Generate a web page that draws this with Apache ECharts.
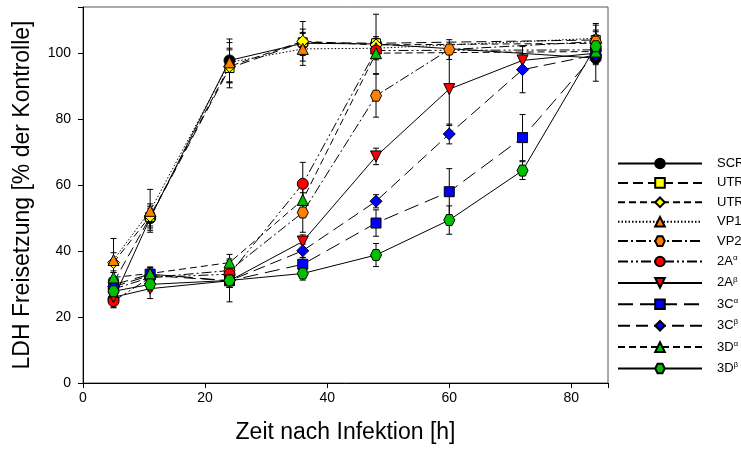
<!DOCTYPE html>
<html>
<head>
<meta charset="utf-8">
<script src="https://cdn.jsdelivr.net/npm/echarts@6/dist/echarts.min.js"></script>
<style>
  html, body { margin: 0; padding: 0; background: #fff; }
  #chart { width: 741px; height: 455px; }
</style>
</head>
<body>
<div id="chart"></div>
<script>
// Time points (hours after infection)
const timesEarly = [5, 11, 24, 36, 48, 84];
const timesMid   = [5, 11, 24, 36, 48, 60, 84];
const timesFull  = [5, 11, 24, 36, 48, 60, 72, 84];

// LDH release (% of control) and standard deviations
const scrValues   = [25.5, 50.0, 97.8, 103.0, 102.8, 98.5];
const scrErrors   = [2.5, 3.0, 6.5, 3.0, 9.0, 7.0];
const utr5Values  = [30.5, 50.3, 95.5, 103.3, 103.0, 104.0];
const utr5Errors  = [3.0, 4.0, 6.0, 4.0, 2.0, 5.0];
const utr3Values  = [36.5, 50.6, 96.0, 103.6, 102.5, 103.0];
const utr3Errors  = [3.0, 3.0, 5.0, 6.0, 2.0, 4.0];
const vp1Values   = [37.3, 52.2, 97.2, 101.3, 101.5, 104.5];
const vp1Errors   = [6.5, 6.5, 6.0, 5.0, 2.0, 4.0];
const vp2Values   = [28.5, 32.0, 34.1, 51.7, 87.1, 101.1, 103.5];
const vp2Errors   = [2.0, 2.0, 3.0, 6.0, 6.5, 3.0, 3.0];
const a2aValues   = [24.8, 32.0, 33.0, 60.4, 100.8, 101.0];
const a2aErrors   = [2.0, 2.0, 2.0, 6.5, 2.0, 3.0];
const a2bValues   = [26.0, 28.6, 31.0, 42.9, 68.7, 89.1, 97.8, 100.0];
const a2bErrors   = [2.0, 3.0, 2.0, 2.0, 2.5, 11.0, 2.0, 3.0];
const c3aValues   = [29.8, 33.0, 31.0, 36.0, 48.5, 58.0, 74.4, 100.0];
const c3aErrors   = [2.0, 2.0, 2.0, 2.0, 4.0, 7.0, 7.0, 3.0];
const c3bValues   = [29.2, 32.6, 31.0, 40.1, 55.1, 75.5, 95.0, 99.5];
const c3bErrors   = [2.0, 2.0, 2.0, 2.0, 2.0, 3.0, 7.0, 3.0];
const d3aValues   = [32.0, 33.2, 36.5, 55.5, 100.0, 100.5];
const d3aErrors   = [2.0, 2.0, 2.5, 4.0, 2.0, 2.0];
const d3bValues   = [27.8, 29.9, 31.1, 33.2, 38.8, 49.4, 64.4, 102.1];
const d3bErrors   = [2.0, 2.0, 6.5, 2.0, 3.5, 4.3, 2.7, 3.0];

const xTicks = [0, 20, 40, 60, 80];
const yTicks = [0, 20, 40, 60, 80, 100];

const hexagon = 'path://M-10,0 L-5,-8.66 L5,-8.66 L10,0 L5,8.66 L-5,8.66 Z';

// Series definitions: name, times, values, errors, symbol, size, fill, dash pattern
const seriesDefs = [
  { name: 'SCR',   t: timesEarly, v: scrValues,  e: scrErrors,  symbol: 'circle',   size: 11, color: '#000000', dash: 'solid' },
  { name: "UTR5'", t: timesEarly, v: utr5Values, e: utr5Errors, symbol: 'rect',     size: 9,  color: '#ffff00', dash: [10, 5] },
  { name: "UTR3'", t: timesEarly, v: utr3Values, e: utr3Errors, symbol: 'diamond',  size: 12, color: '#ffff00', dash: [7, 4] },
  { name: 'VP1',   t: timesEarly, v: vp1Values,  e: vp1Errors,  symbol: 'triangle', size: 11, color: '#ff8000', dash: [1.5, 2] },
  { name: 'VP2',   t: timesMid,   v: vp2Values,  e: vp2Errors,  symbol: hexagon,    size: 11, color: '#ff8000', dash: [10, 3, 2, 3] },
  { name: '2Aα',   t: timesEarly, v: a2aValues,  e: a2aErrors,  symbol: 'circle',   size: 11, color: '#ff0000', dash: [10, 3, 2, 3, 2, 3] },
  { name: '2Aβ',   t: timesFull,  v: a2bValues,  e: a2bErrors,  symbol: 'triangle', size: 11, color: '#ff0000', dash: 'solid', rotate: 180 },
  { name: '3Cα',   t: timesFull,  v: c3aValues,  e: c3aErrors,  symbol: 'rect',     size: 10, color: '#0000ff', dash: [15, 7] },
  { name: '3Cβ',   t: timesFull,  v: c3bValues,  e: c3bErrors,  symbol: 'diamond',  size: 12, color: '#0000ff', dash: [12, 6] },
  { name: '3Dα',   t: timesEarly, v: d3aValues,  e: d3aErrors,  symbol: 'triangle', size: 11, color: '#00c000', dash: [7, 4] },
  { name: '3Dβ',   t: timesFull,  v: d3bValues,  e: d3bErrors,  symbol: hexagon,    size: 11, color: '#00c000', dash: 'solid' }
];

const series = [];

// Error bars first so the markers sit on top
seriesDefs.forEach(function (d) {
  const data = d.t.map(function (t, i) { return [t, d.v[i] - d.e[i], d.v[i] + d.e[i]]; });
  series.push({
    type: 'custom',
    name: d.name + '-err',
    silent: true,
    z: 1,
    data: data,
    encode: { x: 0, y: [1, 2] },
    renderItem: function (params, api) {
      const lo = api.coord([api.value(0), api.value(1)]);
      const hi = api.coord([api.value(0), api.value(2)]);
      const cap = 3;
      const st = { stroke: '#000', lineWidth: 1 };
      return {
        type: 'group',
        children: [
          { type: 'line', shape: { x1: lo[0], y1: lo[1], x2: hi[0], y2: hi[1] }, style: st },
          { type: 'line', shape: { x1: lo[0] - cap, y1: lo[1], x2: lo[0] + cap, y2: lo[1] }, style: st },
          { type: 'line', shape: { x1: hi[0] - cap, y1: hi[1], x2: hi[0] + cap, y2: hi[1] }, style: st }
        ]
      };
    }
  });
});

seriesDefs.forEach(function (d) {
  series.push({
    type: 'line',
    name: d.name,
    z: 2,
    data: d.t.map(function (t, i) { return [t, d.v[i]]; }),
    symbol: d.symbol,
    symbolSize: d.size,
    symbolRotate: d.rotate || 0,
    showAllSymbol: true,
    lineStyle: { color: '#000', width: 1, type: d.dash },
    itemStyle: { color: d.color, borderColor: '#000', borderWidth: 1 },
    emphasis: { disabled: true }
  });
});

const chart = echarts.init(document.getElementById('chart'), null, { renderer: 'canvas' });

chart.setOption({
  animation: false,
  backgroundColor: '#fff',
  textStyle: { fontFamily: 'Liberation Sans, Arial, sans-serif' },
  grid: {
    left: 83, right: 133, top: 7, bottom: 72,
    show: true, borderColor: '#555', borderWidth: 1
  },
  legend: {
    left: 612,
    top: 152,
    orient: 'vertical',
    itemWidth: 84,
    itemHeight: 12,
    itemGap: 6.4,
    selectedMode: false,
    data: seriesDefs.map(function (d) { return d.name; }),
    formatter: function (name) {
      const m = name.match(/^(\d[A-Z])([αβ])$/);
      return m ? m[1] + '{sup|' + m[2] + '}' : name;
    },
    textStyle: {
      fontSize: 13,
      color: '#000',
      lineHeight: 12,
      padding: [0, 0, 0, 10],
      rich: {
        sup: { fontSize: 8, lineHeight: 12, padding: [0, 0, 7, 0], color: '#000' }
      }
    }
  },
  xAxis: {
    type: 'value',
    min: 0,
    max: 86,
    interval: 20,
    name: 'Zeit nach Infektion [h]',
    nameLocation: 'middle',
    nameGap: 38,
    nameTextStyle: { fontSize: 23, color: '#000' },
    splitLine: { show: false },
    axisLine: { lineStyle: { color: '#000' } },
    axisTick: { inside: false, length: 5, lineStyle: { color: '#000' } },
    axisLabel: {
      fontSize: 14, color: '#000', margin: 8,
      formatter: function (v) { return xTicks.indexOf(v) >= 0 ? String(v) : ''; }
    }
  },
  yAxis: {
    type: 'value',
    min: 0,
    max: 114,
    interval: 20,
    name: 'LDH Freisetzung [% der Kontrolle]',
    nameLocation: 'middle',
    nameGap: 49,
    nameTextStyle: { fontSize: 23, color: '#000' },
    splitLine: { show: false },
    axisLine: { lineStyle: { color: '#000' } },
    axisTick: { inside: false, length: 5, lineStyle: { color: '#000' } },
    axisLabel: {
      fontSize: 14, color: '#000', margin: 12,
      formatter: function (v) { return yTicks.indexOf(v) >= 0 ? String(v) : ''; }
    }
  },
  series: series
});
</script>
</body>
</html>
